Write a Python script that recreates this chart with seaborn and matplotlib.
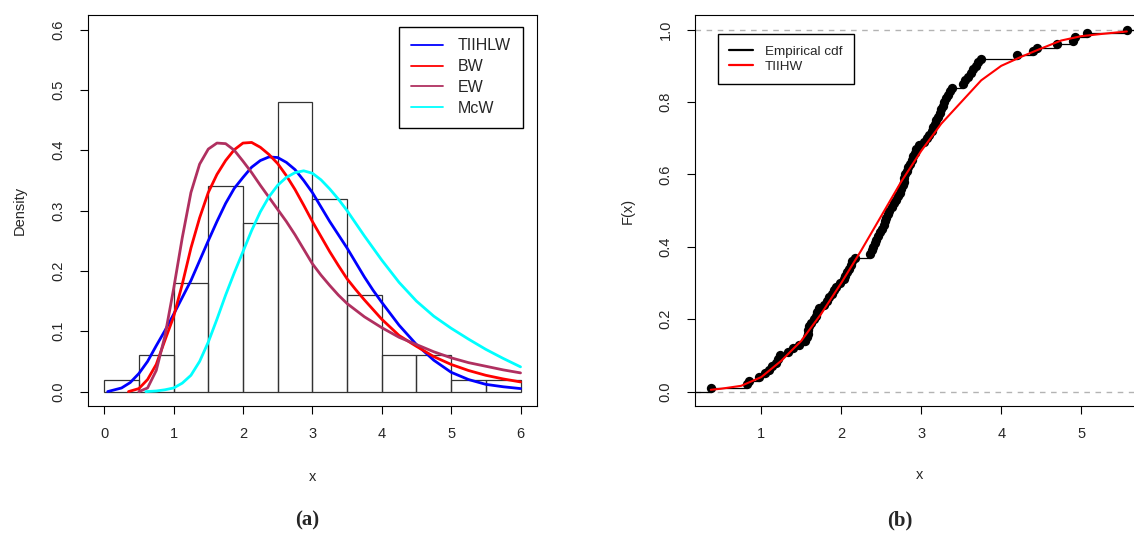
import numpy as np
import matplotlib
matplotlib.use("Agg")
import matplotlib.pyplot as plt
import seaborn as sns
from matplotlib.lines import Line2D

# observed sample (read from the empirical cdf / histogram)
sample = [
    0.37,
    0.82, 0.85, 0.97,
    1.05, 1.10, 1.14, 1.18, 1.21, 1.24, 1.33, 1.40, 1.47,
    1.55, 1.57, 1.58, 1.59, 1.60, 1.62, 1.66, 1.68, 1.70, 1.72, 1.78, 1.82, 1.85, 1.88, 1.91, 1.93, 1.98,
    2.03, 2.05, 2.07, 2.10, 2.12, 2.14, 2.17, 2.36, 2.38, 2.40, 2.42, 2.44, 2.46, 2.48,
    2.51, 2.53, 2.55, 2.56, 2.58, 2.60, 2.63, 2.66, 2.69, 2.71, 2.73, 2.75, 2.77, 2.78, 2.79, 2.80,
    2.82, 2.84, 2.86, 2.88, 2.90, 2.92, 2.94, 2.97,
    3.03, 3.07, 3.10, 3.13, 3.15, 3.17, 3.19, 3.21, 3.23, 3.25, 3.27, 3.29, 3.31, 3.33, 3.36, 3.39,
    3.52, 3.55, 3.58, 3.62, 3.65, 3.68, 3.71, 3.75,
    4.20, 4.40, 4.45,
    4.70, 4.90, 4.92,
    5.07,
    5.57,
]
hist_bins = [0.0, 0.5, 1.0, 1.5, 2.0, 2.5, 3.0, 3.5, 4.0, 4.5, 5.0, 5.5, 6.0]

# fitted densities (panel a)
tiihlw_x = [0.05, 0.25, 0.375, 0.5, 0.625, 0.75, 0.875, 1.0, 1.125, 1.25, 1.375, 1.5, 1.625, 1.75,
            1.875, 2.0, 2.125, 2.25, 2.375, 2.5, 2.625, 2.75, 2.875, 3.0, 3.125, 3.25, 3.375, 3.5,
            3.625, 3.75, 3.875, 4.0, 4.25, 4.5, 4.75, 5.0, 5.25, 5.5, 5.75, 6.0]
tiihlw_y = [0.0, 0.006, 0.015, 0.030, 0.050, 0.076, 0.101, 0.128, 0.156, 0.184, 0.217, 0.250, 0.282,
            0.312, 0.337, 0.355, 0.372, 0.383, 0.389, 0.388, 0.380, 0.368, 0.350, 0.330, 0.306, 0.282,
            0.260, 0.238, 0.214, 0.190, 0.168, 0.148, 0.110, 0.078, 0.052, 0.032, 0.020, 0.012, 0.008,
            0.005]

bw_x = [0.35, 0.5, 0.625, 0.75, 0.875, 1.0, 1.125, 1.25, 1.375, 1.5, 1.625, 1.75, 1.875, 2.0, 2.125,
        2.25, 2.375, 2.5, 2.625, 2.75, 2.875, 3.0, 3.125, 3.25, 3.375, 3.5, 3.625, 3.75, 3.875, 4.0,
        4.25, 4.5, 4.75, 5.0, 5.25, 5.5, 5.75, 6.0]
bw_y = [0.0, 0.005, 0.020, 0.045, 0.085, 0.124, 0.178, 0.238, 0.288, 0.330, 0.360, 0.383, 0.401,
        0.412, 0.413, 0.405, 0.393, 0.378, 0.358, 0.335, 0.309, 0.282, 0.257, 0.232, 0.209, 0.187,
        0.169, 0.152, 0.136, 0.120, 0.093, 0.075, 0.058, 0.045, 0.035, 0.027, 0.021, 0.016]

ew_x = [0.5, 0.625, 0.75, 0.875, 1.0, 1.125, 1.25, 1.375, 1.5, 1.625, 1.75, 1.875, 2.0, 2.125, 2.25,
        2.375, 2.5, 2.625, 2.75, 2.875, 3.0, 3.125, 3.25, 3.375, 3.5, 3.75, 4.0, 4.25, 4.5, 4.75,
        5.0, 5.25, 5.5, 5.75, 6.0]
ew_y = [0.0, 0.006, 0.035, 0.092, 0.170, 0.255, 0.330, 0.377, 0.402, 0.412, 0.411, 0.400, 0.382,
        0.363, 0.342, 0.322, 0.302, 0.282, 0.260, 0.236, 0.212, 0.193, 0.176, 0.160, 0.146, 0.124,
        0.106, 0.090, 0.078, 0.066, 0.056, 0.048, 0.042, 0.036, 0.031]

mcw_x = [0.6, 0.75, 0.875, 1.0, 1.125, 1.25, 1.375, 1.5, 1.625, 1.75, 1.875, 2.0, 2.125, 2.25, 2.375,
         2.5, 2.625, 2.75, 2.875, 3.0, 3.125, 3.25, 3.375, 3.5, 3.625, 3.75, 3.875, 4.0, 4.25, 4.5,
         4.75, 5.0, 5.25, 5.5, 5.75, 6.0]
mcw_y = [0.0, 0.001, 0.003, 0.006, 0.014, 0.027, 0.050, 0.082, 0.120, 0.160, 0.197, 0.232, 0.267,
         0.298, 0.323, 0.342, 0.355, 0.363, 0.366, 0.362, 0.351, 0.336, 0.319, 0.300, 0.279, 0.258,
         0.238, 0.218, 0.181, 0.150, 0.125, 0.105, 0.087, 0.070, 0.055, 0.041]

# fitted cdf (panel b)
cdf_x = [0.37, 0.5, 0.75, 1.0, 1.25, 1.5, 1.75, 2.0, 2.25, 2.5, 2.75, 3.0, 3.25, 3.5, 3.75, 4.0,
         4.25, 4.5, 4.75, 5.0, 5.25, 5.57]
cdf_y = [0.005, 0.008, 0.016, 0.040, 0.085, 0.140, 0.215, 0.300, 0.390, 0.485, 0.580, 0.665, 0.740,
         0.800, 0.860, 0.900, 0.925, 0.948, 0.970, 0.982, 0.988, 0.995]

sns.set_style("ticks")
plt.rcParams["font.family"] = ["Liberation Sans", "DejaVu Sans"]
plt.rcParams["axes.edgecolor"] = "black"
plt.rcParams["axes.linewidth"] = 0.8

fig = plt.figure(figsize=(11.34, 5.36), dpi=100)
ax1 = fig.add_axes([0.0772, 0.2424, 0.3965, 0.7293])
ax2 = fig.add_axes([0.6127, 0.2424, 0.3965, 0.7293])

# ---- panel (a): histogram + fitted densities
sns.histplot(x=sample, bins=hist_bins, stat="density", fill=False, color="#333333",
             linewidth=0.9, ax=ax1)
curves = [(tiihlw_x, tiihlw_y, "blue", "TIIHLW"),
          (bw_x, bw_y, "red", "BW"),
          (ew_x, ew_y, "#B03060", "EW"),
          (mcw_x, mcw_y, "cyan", "McW")]
for cx, cy, col, lab in curves:
    sns.lineplot(x=cx, y=cy, color=col, linewidth=2.0, ax=ax1)

ax1.set_xlim(-0.24, 6.24)
ax1.set_ylim(-0.024, 0.624)
ax1.set_xticks([0, 1, 2, 3, 4, 5, 6])
ax1.set_yticks([0.0, 0.1, 0.2, 0.3, 0.4, 0.5, 0.6])
ax1.set_yticklabels(["0.0", "0.1", "0.2", "0.3", "0.4", "0.5", "0.6"])
ax1.set_xlabel("x", fontsize=10.5)
ax1.set_ylabel("Density", fontsize=10.5)
ax1.xaxis.set_label_coords(0.5, -0.181)
ax1.yaxis.set_label_coords(-0.151, 0.5)
handles = [Line2D([], [], color=c, lw=1.3) for _, _, c, _ in curves]
leg = ax1.legend(handles, [l for _, _, _, l in curves], loc="upper right",
                 bbox_to_anchor=(0.968, 0.971), borderaxespad=0, fontsize=11.5,
                 fancybox=False, edgecolor="black", framealpha=1, borderpad=0.75,
                 handlelength=2.0, handletextpad=0.9, labelspacing=0.36)
leg.get_frame().set_linewidth(1.0)

# ---- panel (b): empirical cdf + fitted cdf
xs = np.sort(np.array(sample))
fn = np.arange(1, len(xs) + 1) / len(xs)
xlo, xhi = 0.17, 5.79
ax2.axhline(0, color="#B3B3B3", ls=(0, (4, 4)), lw=1.0)
ax2.axhline(1, color="#B3B3B3", ls=(0, (4, 4)), lw=1.0)
ax2.hlines(0, xlo, xs[0], color="black", lw=0.9)
ax2.hlines(fn, xs, np.append(xs[1:], xhi), color="black", lw=0.9)
sns.scatterplot(x=xs, y=fn, color="black", s=45, linewidth=0, ax=ax2, zorder=3)
sns.lineplot(x=cdf_x, y=cdf_y, color="red", linewidth=1.5, ax=ax2, zorder=4)

ax2.set_xlim(xlo, xhi)
ax2.set_ylim(-0.04, 1.04)
ax2.set_xticks([1, 2, 3, 4, 5])
ax2.set_yticks([0.0, 0.2, 0.4, 0.6, 0.8, 1.0])
ax2.set_yticklabels(["0.0", "0.2", "0.4", "0.6", "0.8", "1.0"])
ax2.set_xlabel("x", fontsize=10.5)
ax2.set_ylabel("F(x)", fontsize=10.5)
ax2.xaxis.set_label_coords(0.5, -0.177)
ax2.yaxis.set_label_coords(-0.149, 0.5)
h2 = [Line2D([], [], color="black", lw=1.6), Line2D([], [], color="red", lw=1.6)]
leg2 = ax2.legend(h2, ["Empirical cdf", "TIIHW"], loc="upper left",
                  bbox_to_anchor=(0.0505, 0.952), borderaxespad=0, fontsize=9.7,
                  fancybox=False, edgecolor="black", framealpha=1, borderpad=0.85,
                  handlelength=1.8, handletextpad=0.85, labelspacing=0.2)
leg2.get_frame().set_linewidth(1.0)

for ax in (ax1, ax2):
    ax.tick_params(direction="out", length=6, width=0.8, labelsize=10.5, color="black")
    ax.tick_params(axis="x", pad=9)
    ax.tick_params(axis="y", pad=10)
    for t in ax.get_yticklabels():
        t.set_rotation(90)
        t.set_va("center")
    ax.xaxis.label.set_va("center")
    ax.yaxis.label.set_va("center")
    for s in ax.spines.values():
        s.set_color("black")
        s.set_linewidth(0.8)

fig.text(0.2707, 0.029, "(a)", fontsize=15, fontweight="bold",
         family="Liberation Serif", ha="center", va="center")
fig.text(0.7937, 0.029, "(b)", fontsize=15, fontweight="bold",
         family="Liberation Serif", ha="center", va="center")

fig.savefig("out.png", dpi=100)
